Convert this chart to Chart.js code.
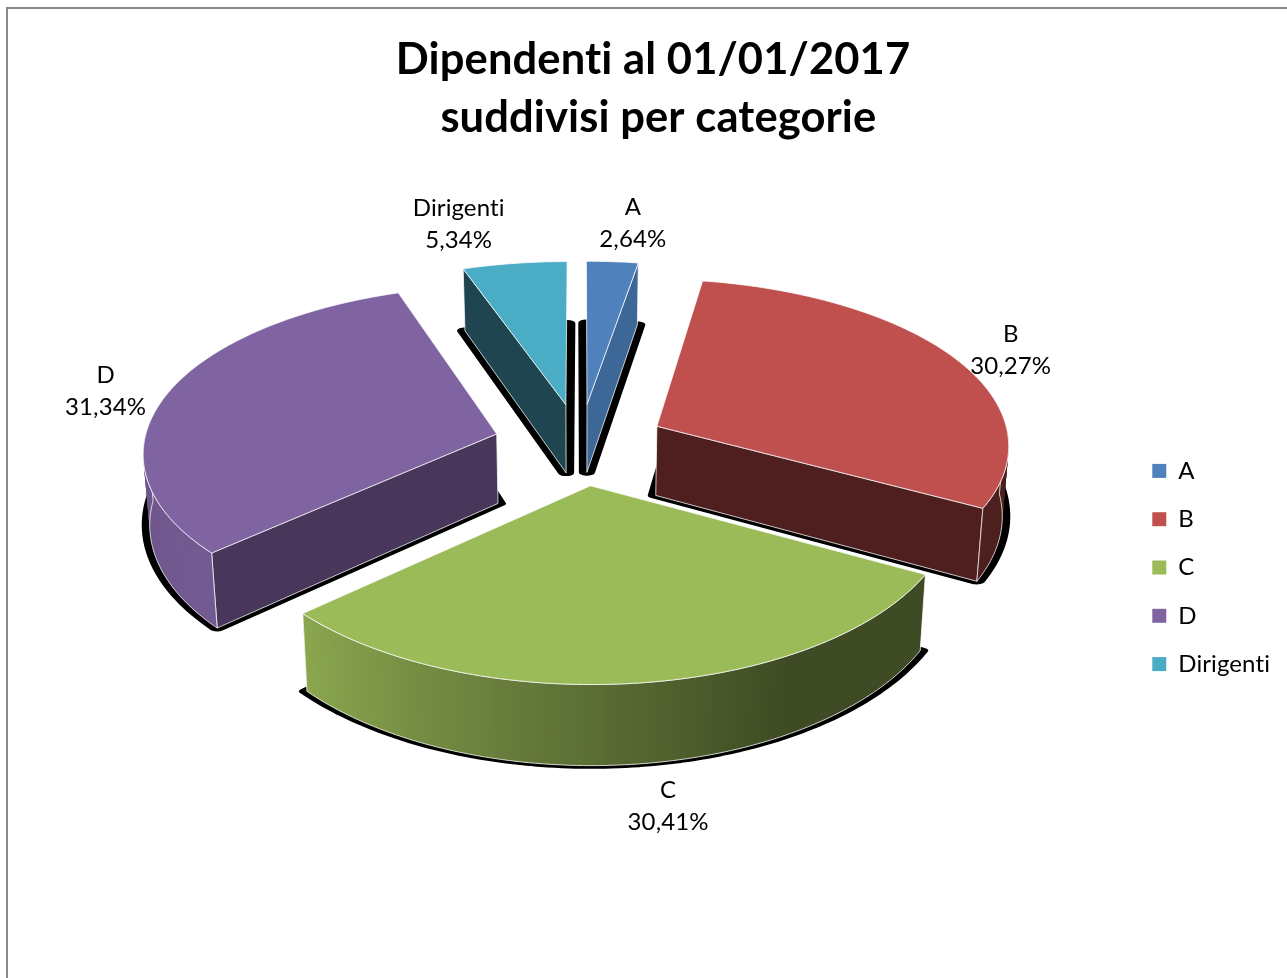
<!DOCTYPE html>
<html lang="it">
<head>
<meta charset="utf-8">
<title>Dipendenti al 01/01/2017</title>
<script src="https://cdn.jsdelivr.net/npm/chart.js@4"></script>
<style>
    html, body { margin: 0; height: 100%; overflow: hidden; background: #fff; }
    #contenedor { position: absolute; left: 0; top: 0; width: 1306px; height: 1114px; }
    #marco { position: absolute; left: 6px; top: 7px; width: 1400px; height: 1200px; border: 2px solid #8a8a8a; }
</style>
</head>
<body>
<div id="marco"></div>
<div id="contenedor"><canvas id="grafica"></canvas></div>
<script>
const categorias = ['A', 'B', 'C', 'D', 'Dirigenti'];
const porcentajes = [2.64, 30.27, 30.41, 31.34, 5.34];
const colores = ['#4f81bd', '#c0504d', '#9bbb59', '#8064a2', '#4bacc6'];
const coloresPared = ['#3d6796', '#4e1f1e', '#3c4721', '#49375b', '#1f4650'];
// ajuste de cada etiqueta respecto a su posicion radial
const ajusteEtiquetas = [[16, -14], [1, 5], [18, 79], [1, 5], [-47, -14.5]];

// perspectiva del pastel 3D
const camara = { cx: 580, cy: 444, rx: 353, ry: 167, px: 0.1, py: 0.11, alto: 70, base: 0.985 };
const explosion = 0.245;
const fuente = 'Lato, Carlito, sans-serif';

function proyectar(u, v, abajo) {
    const wx = 1 + camara.px * v;
    const wy = 1 + camara.py * v;
    return {
        x: camara.cx + camara.rx * (abajo ? camara.base : 1) * u / wx,
        y: camara.cy + (-camara.ry * v + (abajo ? camara.alto : 0)) / wy
    };
}

function mezclar(hex, f) {
    const n = parseInt(hex.slice(1), 16);
    return `rgb(${Math.round((n >> 16) * f)},${Math.round(((n >> 8) & 255) * f)},${Math.round((n & 255) * f)})`;
}

// luz de la pared exterior segun el angulo desde arriba, en grados
function luz(grados) {
    if (grados >= 228) return 0.9 - 0.05 * (grados - 228) / 42;
    if (grados <= 150) return 0.4;
    return 0.4 + 0.5 * (grados - 150) / 78;
}

function trazar(ctx, puntos) {
    ctx.beginPath();
    puntos.forEach((p, i) => i ? ctx.lineTo(p.x, p.y) : ctx.moveTo(p.x, p.y));
    ctx.closePath();
}

function dibujarPorcion(ctx, arco, i) {
    const medio = (arco.startAngle + arco.endAngle) / 2;
    const ox = Math.cos(medio) * explosion;
    const oy = -Math.sin(medio) * explosion;
    const pasos = Math.max(2, Math.ceil((arco.endAngle - arco.startAngle) * 180 / Math.PI));
    const borde = [];
    for (let k = 0; k <= pasos; k++) {
        const a = arco.startAngle + (arco.endAngle - arco.startAngle) * k / pasos;
        borde.push({ a, u: ox + Math.cos(a), v: oy - Math.sin(a) });
    }
    const arriba = borde.map(b => proyectar(b.u, b.v, false));
    const abajo = borde.map(b => proyectar(b.u, b.v, true));
    const apice = proyectar(ox, oy, false);
    const apiceAbajo = proyectar(ox, oy, true);
    const linea = 'rgba(255,255,255,0.75)';

    // sombra negra bajo la base, mas ancha que alta
    trazar(ctx, [apiceAbajo, ...abajo]);
    ctx.fillStyle = '#000';
    ctx.fill();
    ctx.save();
    ctx.scale(1, 0.4);
    ctx.strokeStyle = '#000';
    ctx.lineWidth = 16;
    ctx.lineJoin = 'round';
    ctx.stroke();
    ctx.restore();

    // paredes rectas, solo las que miran al frente
    ctx.lineJoin = 'miter';
    const paredes = [
        { k: 0, normal: arco.startAngle - Math.PI / 2 },
        { k: pasos, normal: arco.endAngle + Math.PI / 2 }
    ];
    paredes.filter(p => Math.sin(p.normal) > 0.01).forEach(p => {
        trazar(ctx, [apice, arriba[p.k], abajo[p.k], apiceAbajo]);
        ctx.fillStyle = coloresPared[i];
        ctx.strokeStyle = linea;
        ctx.lineWidth = 1;
        ctx.fill();
        ctx.stroke();
    });

    // pared exterior por tramos, solo la parte delantera
    const frente = [];
    borde.forEach((b, k) => { if (Math.sin(b.a) > -0.02) frente.push(k); });
    frente.forEach((k, n) => {
        const sig = frente[Math.min(n + 2, frente.length - 1)];
        if (sig === k) return;
        const grados = ((borde[k].a + Math.PI / 2) * 180 / Math.PI + 360) % 360;
        trazar(ctx, [arriba[k], arriba[sig], abajo[sig], abajo[k]]);
        ctx.fillStyle = mezclar(colores[i], luz(grados));
        ctx.fill();
    });
    if (frente.length > 1) {
        const de = frente[0];
        const a = frente[frente.length - 1];
        trazar(ctx, [...arriba.slice(de, a + 1), ...abajo.slice(de, a + 1).reverse()]);
        ctx.strokeStyle = linea;
        ctx.lineWidth = 1;
        ctx.stroke();
    }

    // cara superior
    trazar(ctx, [apice, ...arriba]);
    ctx.fillStyle = colores[i];
    ctx.fill();
    ctx.strokeStyle = linea;
    ctx.lineWidth = 1;
    ctx.stroke();
}

function dibujarEtiqueta(ctx, arco, i) {
    const medio = (arco.startAngle + arco.endAngle) / 2;
    const p = proyectar(Math.cos(medio) * 1.44, -Math.sin(medio) * 1.44, false);
    const x = p.x + ajusteEtiquetas[i][0];
    const y = p.y + ajusteEtiquetas[i][1];
    ctx.fillStyle = '#000';
    ctx.font = '24px ' + fuente;
    ctx.textAlign = 'center';
    ctx.textBaseline = 'middle';
    ctx.fillText(categorias[i], x, y - 16);
    ctx.fillText(porcentajes[i].toFixed(2).replace('.', ',') + '%', x, y + 16);
}

const pastel3d = {
    id: 'pastel3d',
    // el espaciado evita las ligaduras de Lato
    beforeUpdate(chart) { chart.ctx.letterSpacing = '0.1px'; },
    beforeDraw(chart) { chart.ctx.letterSpacing = '0.1px'; },
    beforeDatasetsDraw(chart) {
        const ctx = chart.ctx;
        const arcos = chart.getDatasetMeta(0).data;
        const orden = arcos.map((a, i) => i).sort((a, b) => {
            const mb = (arcos[b].startAngle + arcos[b].endAngle) / 2;
            const ma = (arcos[a].startAngle + arcos[a].endAngle) / 2;
            return Math.sin(mb) - Math.sin(ma);
        });
        ctx.save();
        orden.forEach(i => dibujarPorcion(ctx, arcos[i], i));
        arcos.forEach((a, i) => dibujarEtiqueta(ctx, a, i));
        ctx.restore();
        return false;
    }
};

new Chart(document.getElementById('grafica'), {
    type: 'pie',
    data: {
        labels: categorias,
        datasets: [{
            data: porcentajes,
            backgroundColor: colores,
            borderWidth: 0
        }]
    },
    options: {
        responsive: true,
        maintainAspectRatio: false,
        animation: false,
        layout: { padding: { top: 21, right: 26, left: 26 } },
        plugins: {
            title: {
                display: true,
                text: ['Dipendenti al 01/01/2017', ' suddivisi per categorie'],
                color: '#000',
                font: { family: fuente, size: 43.5, weight: 'bold', lineHeight: 1.335 }
            },
            legend: {
                position: 'right',
                labels: {
                    color: '#000',
                    font: { family: fuente, size: 24 },
                    boxWidth: 14,
                    boxHeight: 14,
                    padding: 24.3
                }
            },
            tooltip: { enabled: false }
        }
    },
    plugins: [pastel3d]
});
</script>
</body>
</html>
